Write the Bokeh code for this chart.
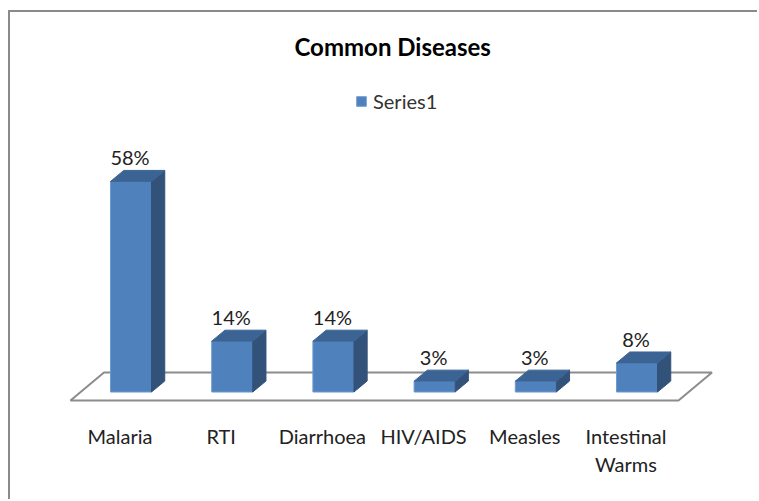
from bokeh.plotting import figure
from bokeh.models import ColumnDataSource, Range1d, Legend, LegendItem
from bokeh.core.properties import value
from bokeh.embed import file_html
from bokeh.resources import INLINE

categories = ["Malaria", "RTI", "Diarrhoea", "HIV/AIDS", "Measles", "Intestinal\nWarms"]
percent = [58, 14, 14, 3, 3, 8]
series_name = "Series1"
chart_title = "Common Diseases"

FONT = "Lato"
half = 0.2026     # half bar width, category units
dx, dy = 0.131, 3.03   # 3-D depth in category / value units
idx = list(range(len(categories)))

front = ColumnDataSource(dict(x=idx, top=percent, bottom=[0] * len(idx)))
top_face = ColumnDataSource(dict(
    xs=[[i - half, i + half, i + half + dx, i - half + dx] for i in idx],
    ys=[[v, v, v + dy, v + dy] for v in percent]))
side_face = ColumnDataSource(dict(
    xs=[[i + half, i + half + dx, i + half + dx, i + half] for i in idx],
    ys=[[0, dy, v + dy, v] for v in percent]))
labels = ColumnDataSource(dict(x=idx, y=[v + dy for v in percent],
                               t=[f"{v}%" for v in percent]))
cats = ColumnDataSource(dict(x=idx, y=[-8.7] * len(idx), t=categories))

p = figure(width=749, height=489, output_backend="svg", toolbar_location=None,
           title=chart_title, x_range=Range1d(-1.1907, 6.2105), y_range=Range1d(-30.15, 91.3),
           min_border_left=0, min_border_right=0, min_border_top=48, min_border_bottom=0,
           outline_line_color=None, border_fill_color="white", background_fill_color="white")
p.styles = {"margin-top": "10px", "margin-left": "8px",
            "border-top": "2px solid #8a8a8a", "border-left": "2px solid #8a8a8a"}
p.axis.visible = False
p.grid.visible = False
p.title.align = "left"
p.title.text_font = FONT
p.title.text_font_size = "24px"
p.title.text_font_style = "bold"
p.title.text_color = "black"
p.title.standoff = 0
p.title.offset = 284

p.patch([-0.598, 5.41, 5.741, -0.267], [-2.34, -2.34, 5.37, 5.37],
        fill_color="white", line_color="#8c8c8c", line_width=2)
bars = p.vbar(x="x", top="top", bottom="bottom", width=2 * half, source=front,
              fill_color="#4F81BD", line_color="#6F9BD0", line_width=1)
p.patches("xs", "ys", source=side_face, fill_color="#32527A", line_color="#32527A")
p.patches("xs", "ys", source=top_face, fill_color="#3B6494", line_color="#3B6494")

p.text("x", "y", text="t", source=labels, x_offset=-1, text_font=value(FONT), text_font_size="20px",
       text_color="#222222", text_align="center", text_baseline="bottom", y_offset=-1)
p.text("x", "y", text="t", source=cats, x_offset=-11, text_font=value(FONT), text_font_size="20px",
       text_color="#222222", text_align="center", text_baseline="top", text_line_height=1.2)

legend = Legend(items=[LegendItem(label=series_name, renderers=[bars])],
                location=(345, 388), orientation="horizontal",
                border_line_color=None, background_fill_alpha=0,
                glyph_width=12, glyph_height=12, label_standoff=6, margin=0, padding=0,
                label_text_font=FONT, label_text_font_size="20px", label_text_color="#333333")
p.add_layout(legend, "center")

open("out.html", "w").write(file_html(p, INLINE))
